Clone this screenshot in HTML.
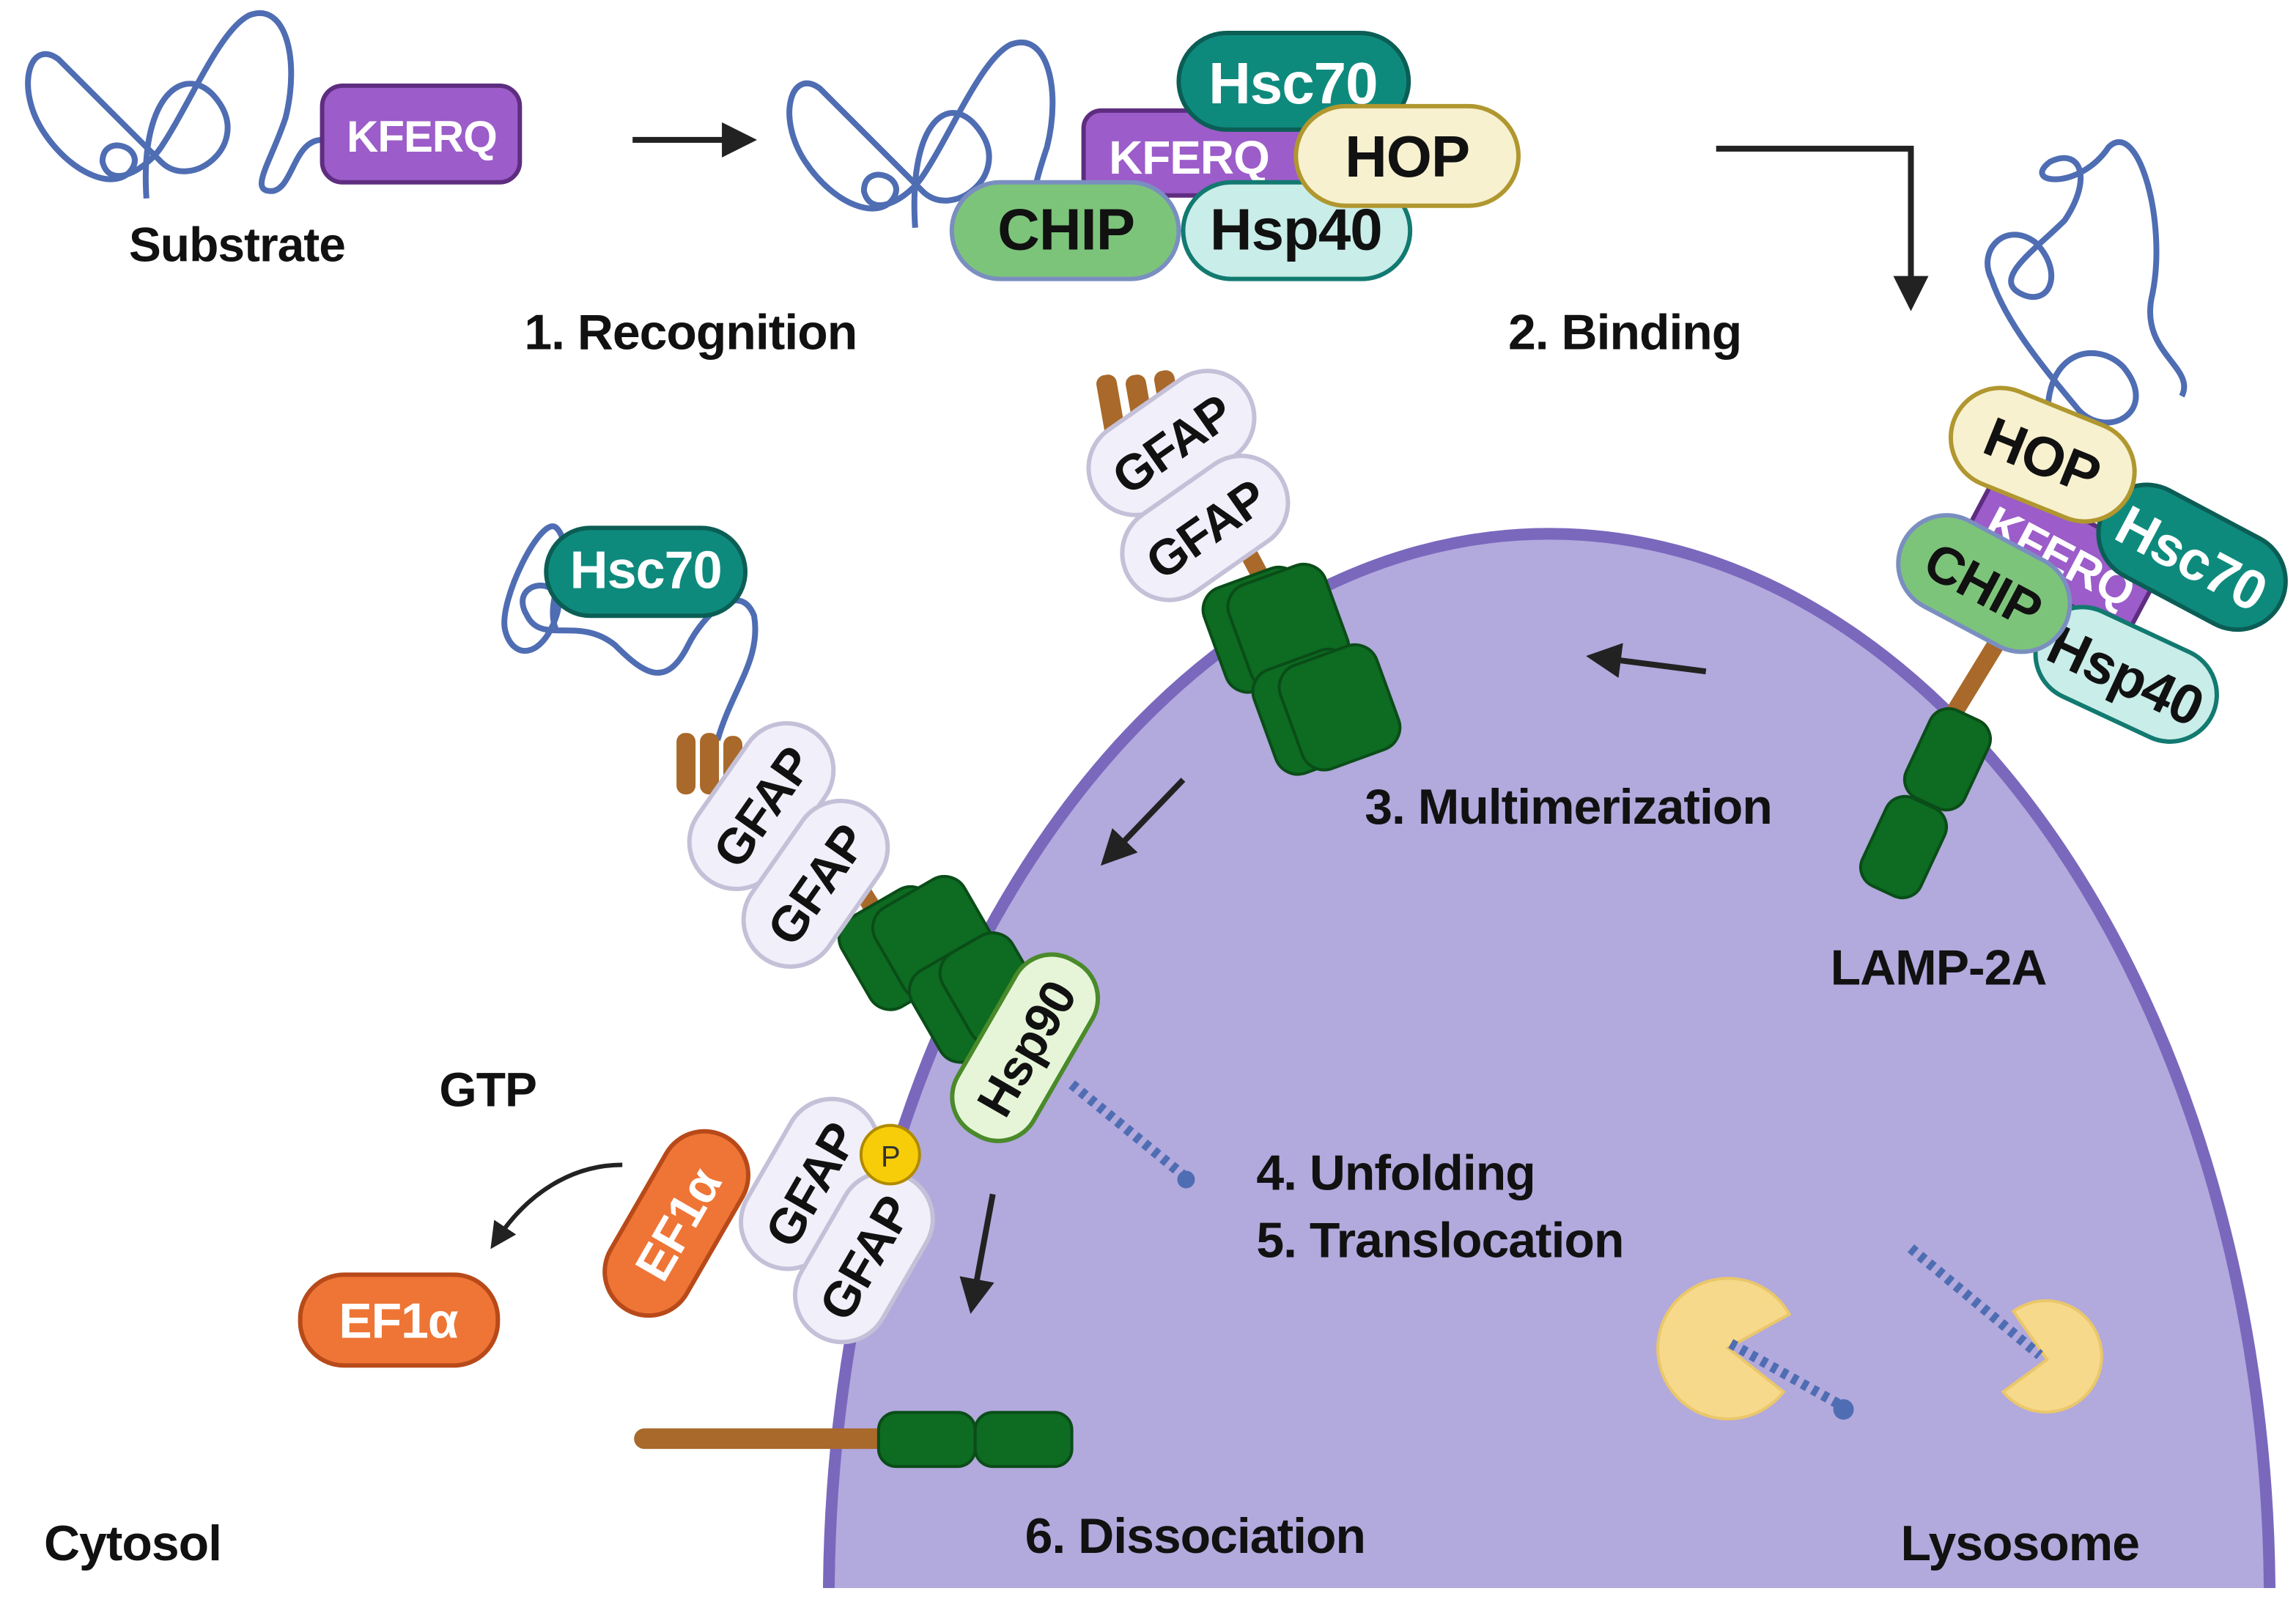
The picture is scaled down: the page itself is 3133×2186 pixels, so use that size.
<!DOCTYPE html>
<html><head><meta charset="utf-8"><style>
html,body{margin:0;padding:0;background:#fff;width:3133px;height:2186px;overflow:hidden;}
svg{display:block;}
text{font-family:"Liberation Sans",sans-serif;font-weight:bold;letter-spacing:-0.5px;}
</style></head><body>
<svg width="3133" height="2186" viewBox="0 0 1568 1093" xmlns="http://www.w3.org/2000/svg">
<defs>
<marker id="ah" markerWidth="6" markerHeight="6" refX="3" refY="3" orient="auto" markerUnits="strokeWidth">
<path d="M0,0 L6,3 L0,6 Z" fill="#222"/></marker>
</defs>
<rect width="1568" height="1093" fill="#fff"/>

<ellipse cx="1058" cy="1092" rx="492" ry="728" fill="#b2a9dd" stroke="#7a68bd" stroke-width="8"/>
<rect x="0" y="1084" width="1568" height="10" fill="#fff"/>

<path d="M100,135 C95,60 130,40 150,70 C170,100 130,130 110,110 C80,80 60,60 40,40 C20,25 10,60 30,90 C50,120 80,130 90,115 C100,100 70,90 70,110 C75,130 100,115 110,100 C130,70 150,20 170,10 C195,0 205,40 195,80 C185,110 170,130 185,130 C200,130 200,95 220,95" fill="none" stroke="#4f6db3" stroke-width="4"/>
<rect x="220" y="58" width="135" height="66" rx="14" fill="#9c5cc9" stroke="#5e2d80" stroke-width="3"/>
<text x="288" y="103" font-size="30" fill="#fff" text-anchor="middle">KFERQ</text>
<text x="88" y="178" font-size="33" fill="#111">Substrate</text>

<line x1="432" y1="95" x2="505" y2="95" stroke="#222" stroke-width="4" marker-end="url(#ah)"/>

<path d="M625,155 C620,80 650,60 670,90 C690,120 650,150 630,130 C600,100 580,80 560,60 C540,45 530,80 550,110 C570,140 600,150 610,135 C620,120 590,110 590,130 C595,150 620,135 630,120 C650,90 670,40 690,30 C715,20 725,60 715,100 C705,130 700,150 720,140" fill="none" stroke="#4f6db3" stroke-width="4"/>
<rect x="740" y="75" width="150" height="58" rx="12" fill="#9c5cc9" stroke="#5e2d80" stroke-width="3"/>
<text x="812" y="118" font-size="32" fill="#fff" text-anchor="middle">KFERQ</text>
<rect x="805" y="22" width="157" height="66" rx="33" fill="#0e8a7d" stroke="#0b5e55" stroke-width="3"/>
<text x="883" y="70" font-size="40" fill="#fff" text-anchor="middle">Hsc70</text>
<rect x="650" y="124" width="155" height="66" rx="33" fill="#7dc47b" stroke="#7a8fc0" stroke-width="3"/>
<text x="728" y="170" font-size="40" fill="#111" text-anchor="middle">CHIP</text>
<rect x="808" y="124" width="155" height="66" rx="33" fill="#c9ede9" stroke="#127a70" stroke-width="3"/>
<text x="885" y="170" font-size="40" fill="#111" text-anchor="middle">Hsp40</text>
<rect x="885" y="72" width="152" height="68" rx="34" fill="#f7f1cf" stroke="#b0972f" stroke-width="3"/>
<text x="961" y="120" font-size="40" fill="#111" text-anchor="middle">HOP</text>

<text x="358" y="238" font-size="34" fill="#111">1.  Recognition</text>
<text x="1030" y="238" font-size="34" fill="#111">2. Binding</text>
<polyline points="1172,101 1305,101 1305,200" fill="none" stroke="#222" stroke-width="4" marker-end="url(#ah)"/>

<path d="M1400,300 C1390,240 1430,230 1450,250 C1475,280 1440,300 1420,280 C1395,250 1370,220 1360,190 C1350,170 1370,150 1390,165 C1410,185 1400,210 1380,200 C1360,190 1390,170 1410,150 C1430,120 1420,100 1400,110 C1380,125 1420,130 1440,100 C1460,80 1480,150 1470,200 C1460,240 1500,250 1490,270" fill="none" stroke="#4f6db3" stroke-width="4"/>
<line x1="1375" y1="420" x2="1320" y2="510" stroke="#a8692a" stroke-width="12"/>
<rect x="-22" y="-33" width="44" height="66" rx="14" fill="#0d6b22" stroke="#0a4d18" stroke-width="2" transform="translate(1330,518) rotate(25)"/>
<rect x="-22" y="-33" width="44" height="66" rx="14" fill="#0d6b22" stroke="#0a4d18" stroke-width="2" transform="translate(1300,578) rotate(25)"/>
<g transform="translate(1408,378) rotate(28)"><rect x="-65" y="-28" width="130" height="56" rx="10" fill="#9c5cc9" stroke="#5e2d80" stroke-width="3"/><text x="0" y="13" font-size="32" fill="#fff" text-anchor="middle">KFERQ</text></g>
<g transform="translate(1497,380) rotate(28)"><rect x="-68" y="-33" width="136" height="66" rx="33" fill="#0e8a7d" stroke="#0b5e55" stroke-width="3"/><text x="0" y="14" font-size="38" fill="#fff" text-anchor="middle">Hsc70</text></g>
<g transform="translate(1452,460) rotate(25)"><rect x="-65" y="-32" width="130" height="64" rx="32" fill="#c9ede9" stroke="#127a70" stroke-width="3"/><text x="0" y="14" font-size="38" fill="#111" text-anchor="middle">Hsp40</text></g>
<g transform="translate(1395,310) rotate(22)"><rect x="-65" y="-34" width="130" height="68" rx="34" fill="#f7f1cf" stroke="#b0972f" stroke-width="3"/><text x="0" y="14" font-size="38" fill="#111" text-anchor="middle">HOP</text></g>
<g transform="translate(1355,398) rotate(28)"><rect x="-62" y="-33" width="124" height="66" rx="33" fill="#7dc47b" stroke="#7a8fc0" stroke-width="3"/><text x="0" y="14" font-size="36" fill="#111" text-anchor="middle">CHIP</text></g>

<line x1="1165" y1="458" x2="1095" y2="449" stroke="#222" stroke-width="4" marker-end="url(#ah)"/>
<text x="932" y="562" font-size="34" fill="#111">3. Multimerization</text>
<text x="1250" y="672" font-size="34" fill="#111">LAMP-2A</text>

<rect x="752" y="255" width="14" height="45" rx="6" fill="#a8692a" transform="rotate(-10 760 280)"/>
<rect x="772" y="255" width="14" height="45" rx="6" fill="#a8692a" transform="rotate(-10 780 280)"/>
<rect x="792" y="252" width="14" height="45" rx="6" fill="#a8692a" transform="rotate(-10 800 280)"/>
<line x1="838" y1="350" x2="870" y2="410" stroke="#a8692a" stroke-width="12"/>
<g fill="#0d6b22" stroke="#0a4d18" stroke-width="2">
<rect x="828" y="392" width="70" height="75" rx="16" transform="rotate(-20 863 430)"/>
<rect x="845" y="390" width="70" height="75" rx="16" transform="rotate(-20 880 428)"/>
<rect x="862" y="448" width="70" height="75" rx="16" transform="rotate(-20 897 486)"/>
<rect x="880" y="445" width="70" height="75" rx="16" transform="rotate(-20 915 483)"/>
</g>
<g transform="translate(800,302) rotate(-35)"><rect x="-62" y="-32" width="124" height="64" rx="32" fill="#f1eff9" stroke="#c4c0d8" stroke-width="3"/><text x="0" y="13" font-size="34" fill="#111" text-anchor="middle">GFAP</text></g>
<g transform="translate(823,360) rotate(-35)"><rect x="-62" y="-32" width="124" height="64" rx="32" fill="#f1eff9" stroke="#c4c0d8" stroke-width="3"/><text x="0" y="13" font-size="34" fill="#111" text-anchor="middle">GFAP</text></g>

<line x1="808" y1="532" x2="760" y2="582" stroke="#222" stroke-width="4" marker-end="url(#ah)"/>

<path d="M490,505 C500,470 520,450 515,420 C505,395 480,420 470,440 C455,470 440,460 420,440 C395,420 370,440 360,420 C345,395 390,390 380,420 C370,450 350,450 345,430 C340,410 370,350 380,360 C395,375 370,410 380,430" fill="none" stroke="#4f6db3" stroke-width="4"/>
<rect x="373" y="360" width="136" height="60" rx="30" fill="#0e8a7d" stroke="#0b5e55" stroke-width="3"/>
<text x="441" y="401" font-size="36" fill="#fff" text-anchor="middle">Hsc70</text>
<rect x="462" y="500" width="13" height="42" rx="6" fill="#a8692a"/>
<rect x="478" y="500" width="13" height="42" rx="6" fill="#a8692a"/>
<rect x="494" y="502" width="13" height="42" rx="6" fill="#a8692a"/>
<line x1="590" y1="610" x2="615" y2="650" stroke="#a8692a" stroke-width="12"/>
<g fill="#0d6b22" stroke="#0a4d18" stroke-width="2">
<rect x="580" y="612" width="70" height="70" rx="16" transform="rotate(-30 615 647)"/>
<rect x="603" y="605" width="70" height="70" rx="16" transform="rotate(-30 638 640)"/>
<rect x="628" y="648" width="70" height="70" rx="16" transform="rotate(-30 663 683)"/>
<rect x="650" y="640" width="55" height="70" rx="16" transform="rotate(-30 677 675)"/>
</g>
<g transform="translate(520,550) rotate(-55)"><rect x="-62" y="-32" width="124" height="64" rx="32" fill="#f1eff9" stroke="#c4c0d8" stroke-width="3"/><text x="0" y="13" font-size="34" fill="#111" text-anchor="middle">GFAP</text></g>
<g transform="translate(557,603) rotate(-55)"><rect x="-62" y="-32" width="124" height="64" rx="32" fill="#f1eff9" stroke="#c4c0d8" stroke-width="3"/><text x="0" y="13" font-size="34" fill="#111" text-anchor="middle">GFAP</text></g>
<g transform="translate(700,715) rotate(-60)"><rect x="-68" y="-30" width="136" height="60" rx="28" fill="#e6f5d8" stroke="#4a8a2a" stroke-width="3"/><text x="0" y="13" font-size="34" fill="#111" text-anchor="middle">Hsp90</text></g>

<line x1="732" y1="740" x2="808" y2="802" stroke="#4f6db3" stroke-width="7" stroke-dasharray="4,4"/>
<circle cx="810" cy="805" r="6" fill="#4f6db3"/>
<text x="858" y="812" font-size="34" fill="#111">4. Unfolding</text>
<text x="858" y="858" font-size="34" fill="#111">5. Translocation</text>

<text x="300" y="755" font-size="33" fill="#111">GTP</text>
<path d="M425,795 C390,795 360,815 340,845" fill="none" stroke="#222" stroke-width="3" marker-end="url(#ah)"/>
<g transform="translate(462,835) rotate(-60)"><rect x="-68" y="-30" width="136" height="60" rx="30" fill="#ee7535" stroke="#b84a1a" stroke-width="3"/><text x="0" y="13" font-size="34" fill="#fff" text-anchor="middle">EF1α</text></g>
<rect x="205" y="870" width="135" height="62" rx="30" fill="#ee7535" stroke="#b84a1a" stroke-width="3"/>
<text x="272" y="913" font-size="34" fill="#fff" text-anchor="middle">EF1α</text>
<g transform="translate(553,808) rotate(-60)"><rect x="-62" y="-32" width="124" height="64" rx="32" fill="#f1eff9" stroke="#c4c0d8" stroke-width="3"/><text x="0" y="13" font-size="34" fill="#111" text-anchor="middle">GFAP</text></g>
<g transform="translate(590,858) rotate(-60)"><rect x="-62" y="-32" width="124" height="64" rx="32" fill="#f1eff9" stroke="#c4c0d8" stroke-width="3"/><text x="0" y="13" font-size="34" fill="#111" text-anchor="middle">GFAP</text></g>
<circle cx="608" cy="788" r="20" fill="#f6cd08" stroke="#b08a00" stroke-width="2"/>
<text x="608" y="796" font-size="20" fill="#333" text-anchor="middle" style="font-weight:normal">P</text>

<line x1="678" y1="815" x2="665" y2="885" stroke="#222" stroke-width="4" marker-end="url(#ah)"/>

<line x1="440" y1="982" x2="610" y2="982" stroke="#a8692a" stroke-width="14" stroke-linecap="round"/>
<rect x="600" y="964" width="66" height="37" rx="12" fill="#0d6b22" stroke="#0a4d18" stroke-width="2"/>
<rect x="666" y="964" width="66" height="37" rx="12" fill="#0d6b22" stroke="#0a4d18" stroke-width="2"/>

<path d="M1180,920 L1222,897 A48,48 0 1,0 1218,950 Z" fill="#f7d98b" stroke="#eac76a" stroke-width="2"/>
<line x1="1182" y1="917" x2="1255" y2="958" stroke="#4f6db3" stroke-width="7" stroke-dasharray="4,4"/>
<circle cx="1259" cy="962" r="7" fill="#4f6db3"/>
<path d="M1398,928 L1375,895 A38,38 0 1,1 1368,950 Z" fill="#f7d98b" stroke="#eac76a" stroke-width="2"/>
<line x1="1305" y1="852" x2="1393" y2="925" stroke="#4f6db3" stroke-width="7" stroke-dasharray="4,4"/>

<text x="700" y="1060" font-size="34" fill="#111">6. Dissociation</text>
<text x="30" y="1065" font-size="34" fill="#111">Cytosol</text>
<text x="1298" y="1065" font-size="34" fill="#111">Lysosome</text>
</svg>
</body></html>
